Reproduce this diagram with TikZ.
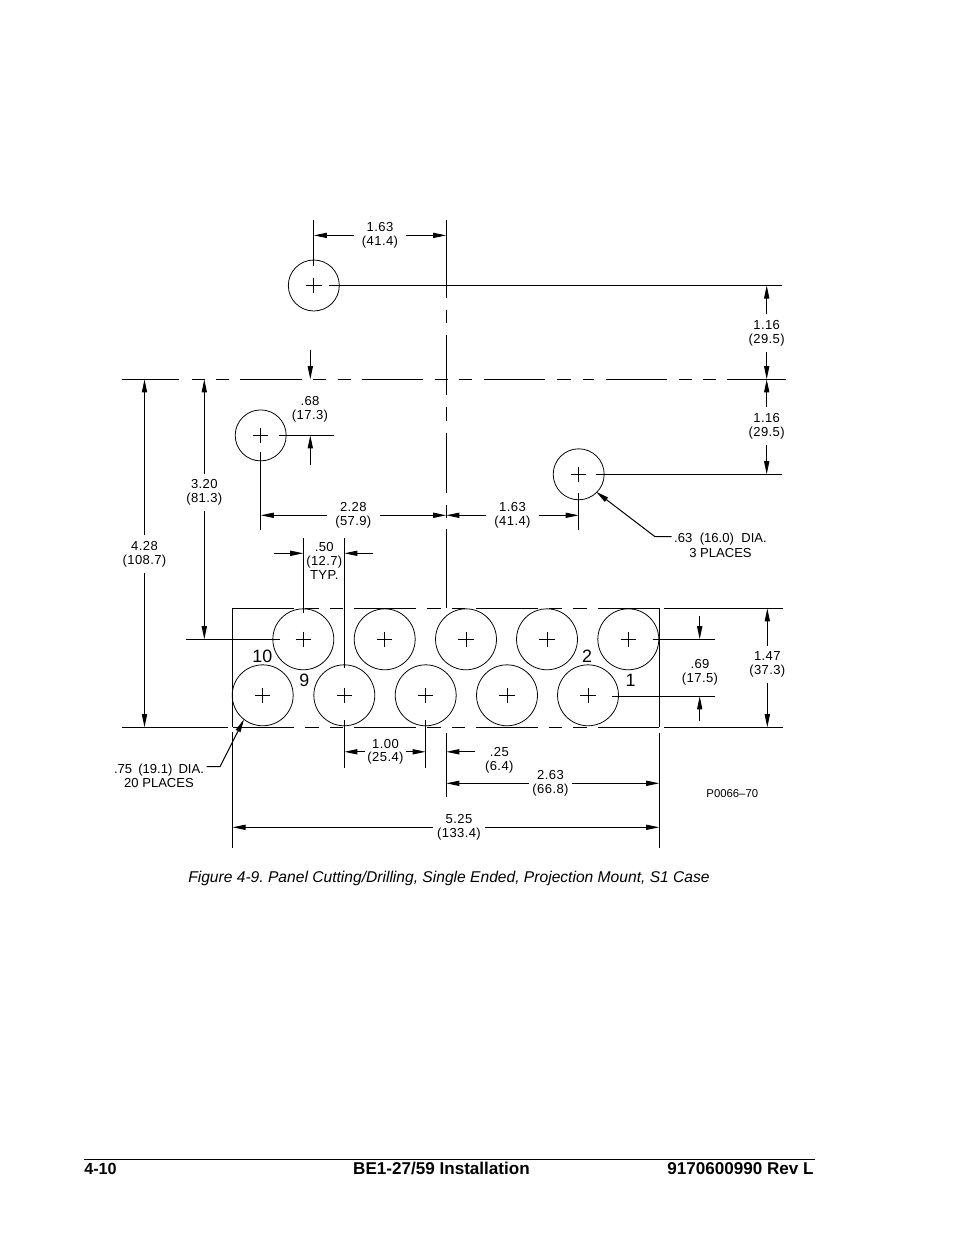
\documentclass[tikz,border=0pt]{standalone}
\usepackage{fontspec}
\setmainfont{Liberation Sans}
\usetikzlibrary{arrows.meta}
\tikzset{
  dimline/.style={line width=0.65bp,-{Triangle[length=8.4bp,width=3.3bp]}},
  plainline/.style={line width=0.65bp},
  thinline/.style={line width=0.5bp},
  dimnote/.style={inner sep=0pt,align=center,
    font=\fontsize{8.4}{8.8}\selectfont\addfontfeature{LetterSpace=3}},
  dimlabel/.style={dimnote,minimum width=33.4bp,minimum height=23.7bp},
  cadtext/.style={inner sep=0pt,align=center,font=\fontsize{8.4}{9.4}\selectfont},
  holenum/.style={inner sep=0pt,font=\fontsize{11.5}{12}\selectfont},
  bighole/.style={circle,draw,thinline,inner sep=0pt,minimum size=39.1bp},
  smallhole/.style={circle,draw,thinline,inner sep=0pt,minimum size=32.7bp},
  footer/.style={inner sep=0pt,font=\fontsize{11}{12}\selectfont\bfseries}
}
\frenchspacing
\begin{document}
\begin{tikzpicture}[x=0.6415bp,y=-0.6415bp]
\useasboundingbox (0,0) rectangle (954,1235);

% holes
\foreach \name/\xx/\yy in {u1/313.8/285.5,u2/260.7/435.4,u3/578.7/474.3}{
  \node[smallhole] (\name) at (\xx,\yy) {};
  \draw[thinline] (\name.center) ++(-7.7,0) -- ++(15.4,0);
  \draw[thinline] (\name.center) ++(0,-7.7) -- ++(0,15.4);
}
\foreach \name/\xx/\yy in {a1/303.3/639.3,a2/384.7/639.3,a3/466/639.3,a4/547/639.3,a5/628.3/639.3,
    b1/262.7/695.3,b2/344.3/695.3,b3/425.7/695.3,b4/507/695.3,b5/588/695.3}{
  \node[bighole] (\name) at (\xx,\yy) {};
  \draw[thinline] (\name.center) ++(-7.7,0) -- ++(15.4,0);
  \draw[thinline] (\name.center) ++(0,-7.7) -- ++(0,15.4);
}
\node[holenum] (n10) at (262.3,656.3) {10};
\node[holenum] (n9) at (304.3,680) {9};
\node[holenum] (n2) at (587,656.7) {2};
\node[holenum] (n1) at (630.7,680) {1};

% broken center lines
\foreach \aa/\bb in {220/298,310/322.7,335/395,407/420.7,432.7/493,505/518,529/608}
  \draw[plainline] (446.2,\aa) -- (446.2,\bb);
\foreach \aa/\bb in {121.7/179,191.7/205,215.7/228.7,240/302.3,313.3/326,337.7/350.7,361.7/423.3,
    435/448.3,459.3/472,484/545,557/571,583/594,606/667,679/692,703/716,727/786}
  \draw[plainline] (\aa,379.3) -- (\bb,379.3);

% cutout
\foreach \aa/\bb in {232.5/294,305/319,330/343.3,354.3/416,427.3/441,452.3/465,476/538.3,
    549.3/562.3,573.3/586.7,598.3/659.3}{
  \draw[plainline] (\aa,608.3) -- (\bb,608.3);
  \draw[plainline] (\aa,727.3) -- (\bb,727.3);
}
\draw[plainline] (232.5,608.3) -- (232.5,727.3);
\draw[plainline] (659.3,608.3) -- (659.3,727.3);

% extension lines
\coordinate (e1a) at (313.8,220); \coordinate (e1b) at (313.8,266);
\coordinate (e2a) at (329,285.5); \coordinate (e2b) at (782,285.5);
\coordinate (e3a) at (279,435.4); \coordinate (e3b) at (333.5,435.4);
\coordinate (e4a) at (260.7,451.7); \coordinate (e4b) at (260.7,529.5);
\coordinate (e5a) at (596,474.3); \coordinate (e5b) at (782,474.3);
\coordinate (e6a) at (578.7,493); \coordinate (e6b) at (578.7,529.5);
\coordinate (e7a) at (303.3,538); \coordinate (e7b) at (303.3,613);
\coordinate (e8a) at (344.3,538); \coordinate (e8b) at (344.3,668);
\coordinate (e9a) at (186,639.3); \coordinate (e9b) at (280,639.3);
\coordinate (e10a) at (652.7,639.3); \coordinate (e10b) at (715,639.3);
\coordinate (e11a) at (612,696.3); \coordinate (e11b) at (715,696.3);
\coordinate (e12a) at (664,608.3); \coordinate (e12b) at (782.7,608.3);
\coordinate (e13a) at (664,727.3); \coordinate (e13b) at (782.7,727.3);
\coordinate (e14a) at (122,727.3); \coordinate (e14b) at (228,727.3);
\coordinate (e15a) at (232.5,731.7); \coordinate (e15b) at (232.5,848);
\coordinate (e16a) at (659.3,732.7); \coordinate (e16b) at (659.3,848);
\coordinate (e17a) at (446.2,733); \coordinate (e17b) at (446.2,797);
\coordinate (e18a) at (344.3,720); \coordinate (e18b) at (344.3,767.7);
\coordinate (e19a) at (425.7,720); \coordinate (e19b) at (425.7,767.7);
\foreach \i in {1,...,19}
  \draw[plainline] (e\i a) to (e\i b);

% dimensions
\node[dimlabel] (d163a) at (380,235.4) {1.63\\(41.4)};
\coordinate (d163al) at (313.8,235.4); \coordinate (d163ar) at (446.2,235.4);
\draw[dimline] (d163a) to (d163al);
\draw[dimline] (d163a) to (d163ar);

\node[dimlabel] (d228) at (353.3,515.3) {2.28\\(57.9)};
\coordinate (d228l) at (260.7,515.3); \coordinate (d228r) at (446.2,515.3);
\draw[dimline] (d228) to (d228l);
\draw[dimline] (d228) to (d228r);

\node[dimlabel] (d163b) at (512.5,515.3) {1.63\\(41.4)};
\coordinate (d163bl) at (446.2,515.3); \coordinate (d163br) at (578.7,515.3);
\draw[dimline] (d163b) to (d163bl);
\draw[dimline] (d163b) to (d163br);

\node[dimlabel] (d116a) at (766.7,333) {1.16\\(29.5)};
\coordinate (d116at) at (766.7,285.5); \coordinate (d116ab) at (766.7,379.3);
\draw[dimline] (d116a) to (d116at);
\draw[dimline] (d116a) to (d116ab);

\node[dimlabel] (d116b) at (766.7,426) {1.16\\(29.5)};
\coordinate (d116bt) at (766.7,379.3); \coordinate (d116bb) at (766.7,474.3);
\draw[dimline] (d116b) to (d116bt);
\draw[dimline] (d116b) to (d116bb);

\node[dimlabel] (d428) at (144.5,554) {4.28\\(108.7)};
\coordinate (d428t) at (144.5,379.3); \coordinate (d428b) at (144.5,727.3);
\draw[dimline] (d428) to (d428t);
\draw[dimline] (d428) to (d428b);

\node[dimlabel] (d320) at (204.3,492.3) {3.20\\(81.3)};
\coordinate (d320t) at (204.3,379.3); \coordinate (d320b) at (204.3,639.3);
\draw[dimline] (d320) to (d320t);
\draw[dimline] (d320) to (d320b);

\node[dimlabel] (d147) at (767.3,664.5) {1.47\\(37.3)};
\coordinate (d147t) at (767.3,608.3); \coordinate (d147b) at (767.3,727.3);
\draw[dimline] (d147) to (d147t);
\draw[dimline] (d147) to (d147b);

\node[dimlabel,minimum width=26.3bp] (d100) at (385.5,751.8) {1.00\\(25.4)};
\coordinate (d100l) at (344.3,751.8); \coordinate (d100r) at (425.7,751.8);
\draw[dimline] (d100) to (d100l);
\draw[dimline] (d100) to (d100r);

\node[dimlabel,minimum width=27.3bp] (d263) at (550.5,783.3) {2.63\\(66.8)};
\coordinate (d263l) at (446.2,783.3); \coordinate (d263r) at (659.3,783.3);
\draw[dimline] (d263) to (d263l);
\draw[dimline] (d263) to (d263r);

\node[dimlabel] (d525) at (459,827.3) {5.25\\(133.4)};
\coordinate (d525l) at (232.5,827.3); \coordinate (d525r) at (659.3,827.3);
\draw[dimline] (d525) to (d525l);
\draw[dimline] (d525) to (d525r);

% outside arrows
\node[dimnote] (d68) at (310,409.5) {.68\\(17.3)};
\coordinate (d68a) at (310.3,350); \coordinate (d68b) at (310.3,379.3);
\coordinate (d68c) at (310.3,464.5); \coordinate (d68d) at (310.3,435.4);
\draw[dimline] (d68a) to (d68b);
\draw[dimline] (d68c) to (d68d);

\node[cadtext,font=\fontsize{8.4}{9.1}\selectfont\addfontfeature{LetterSpace=3}] (d50) at (324.3,561) {.50\\(12.7)\\TYP.};
\coordinate (d50a) at (274,553.3); \coordinate (d50b) at (303.3,553.3);
\coordinate (d50c) at (373.3,553.3); \coordinate (d50d) at (344.3,553.3);
\draw[dimline] (d50a) to (d50b);
\draw[dimline] (d50c) to (d50d);

\node[dimnote] (d69) at (700,672) {.69\\(17.5)};
\coordinate (d69a) at (699.7,615.7); \coordinate (d69b) at (699.7,639.3);
\coordinate (d69c) at (699.7,720.7); \coordinate (d69d) at (699.7,696.3);
\draw[dimline] (d69a) to (d69b);
\draw[dimline] (d69c) to (d69d);

\node[dimnote] (d25) at (499.3,760) {.25\\(6.4)};
\coordinate (d25a) at (475,751.8); \coordinate (d25b) at (446.2,751.8);
\draw[dimline] (d25a) to (d25b);

% leaders
\node[cadtext] (lead3) at (720.5,545.3) {.63\hspace{2.5bp} (16.0)\hspace{2.5bp} DIA.\\3 PLACES};
\coordinate (lead3a) at (671.7,536.7); \coordinate (lead3b) at (655,536.7);
\coordinate (lead3c) at (596,491.7);
\draw[dimline] (lead3a) -- (lead3b) -- (lead3c);

\node[cadtext] (lead20) at (159,775.8) {.75\hspace{1.6bp} (19.1)\hspace{1.6bp} DIA.\\20 PLACES};
\coordinate (lead20a) at (206.7,766.7); \coordinate (lead20b) at (220,766.7);
\coordinate (lead20c) at (244,719.3);
\draw[dimline] (lead20a) -- (lead20b) -- (lead20c);

\node[cadtext,font=\fontsize{7.3}{9}\selectfont] (partno) at (732.3,794) {P0066--70};

% caption and footer
\node[inner sep=0pt,font=\fontsize{10.05}{12}\selectfont\itshape] (caption) at (449,878.5)
  {Figure 4-9. Panel Cutting/Drilling, Single Ended, Projection Mount, S1 Case};
\coordinate (rulel) at (84,1159); \coordinate (ruler) at (815,1159);
\draw[line width=0.6bp] (rulel) to (ruler);
\node[footer,font=\fontsize{10.4}{12}\selectfont\bfseries,anchor=base west] (pagenum) at (84,1174) {4-10};
\node[footer,anchor=base] (title) at (441.5,1174) {BE1-27/59 Installation};
\node[footer,anchor=base east] (docnum) at (814,1174) {9170600990 Rev L};
\end{tikzpicture}
\end{document}
